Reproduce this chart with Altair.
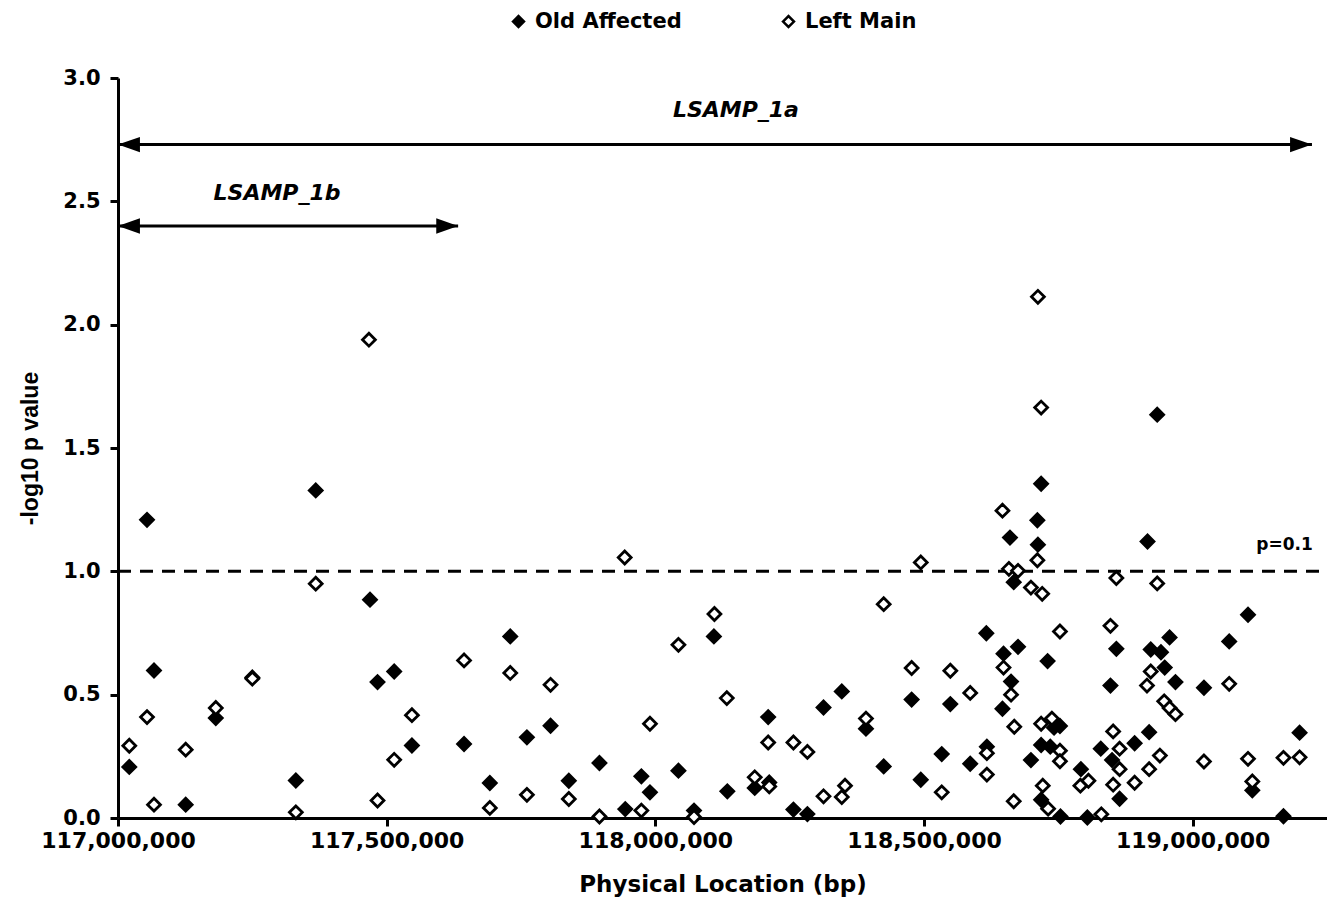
import altair as alt
import pandas as pd

# ---- data ----
oa_pos = [117021000, 117054000, 117067000, 117126000, 117182000, 117250000, 117331000, 117368000,
          117469000, 117483000, 117514000, 117547000, 117644000, 117692000, 117730000, 117761000,
          117805000, 117839000, 117896000, 117944000, 117974000, 117990000, 118043000, 118072000,
          118109000, 118134000, 118185000, 118210000, 118212000, 118257000, 118283000, 118313000,
          118347000, 118392000, 118425000, 118477000, 118494000, 118533000, 118549000, 118586000,
          118616000, 118617000, 118646000, 118648000, 118660000, 118662000, 118667000, 118675000,
          118699000, 118711000, 118712000, 118718000, 118718000, 118718000, 118730000, 118735000,
          118742000, 118753000, 118754000, 118792000, 118804000, 118829000, 118847000, 118850000,
          118858000, 118864000, 118892000, 118916000, 118919000, 118922000, 118934000, 118941000,
          118948000, 118957000, 118968000, 119021000, 119068000, 119103000, 119111000, 119169000,
          119199000]
oa_logp = [0.207, 1.209, 0.598, 0.054, 0.405, 0.570, 0.152, 1.328,
           0.885, 0.551, 0.594, 0.294, 0.300, 0.142, 0.736, 0.327,
           0.374, 0.151, 0.223, 0.036, 0.169, 0.104, 0.192, 0.030,
           0.736, 0.108, 0.122, 0.409, 0.144, 0.034, 0.016, 0.448,
           0.513, 0.362, 0.209, 0.480, 0.155, 0.259, 0.462, 0.220,
           0.749, 0.289, 0.443, 0.666, 1.137, 0.553, 0.956, 0.694,
           0.235, 1.207, 1.108, 1.355, 0.296, 0.074, 0.636, 0.289,
           0.366, 0.373, 0.006, 0.198, 0.002, 0.281, 0.537, 0.235,
           0.686, 0.078, 0.303, 1.121, 0.348, 0.683, 1.635, 0.672,
           0.610, 0.732, 0.551, 0.528, 0.716, 0.824, 0.112, 0.007,
           0.346]

lm_pos = [117021000, 117054000, 117067000, 117126000, 117182000, 117250000, 117331000, 117368000,
          117467000, 117483000, 117514000, 117547000, 117644000, 117692000, 117730000, 117761000,
          117805000, 117839000, 117896000, 117943000, 117974000, 117990000, 118043000, 118072000,
          118110000, 118133000, 118185000, 118210000, 118212000, 118257000, 118283000, 118313000,
          118347000, 118353000, 118392000, 118425000, 118477000, 118494000, 118533000, 118549000,
          118586000, 118617000, 118617000, 118646000, 118648000, 118658000, 118662000, 118667000,
          118668000, 118675000, 118699000, 118711000, 118712000, 118718000, 118718000, 118720000,
          118721000, 118731000, 118738000, 118753000, 118753000, 118753000, 118791000, 118806000,
          118830000, 118847000, 118852000, 118852000, 118858000, 118864000, 118864000, 118892000,
          118915000, 118919000, 118922000, 118934000, 118939000, 118947000, 118957000, 118968000,
          119021000, 119068000, 119103000, 119111000, 119169000, 119199000]
lm_logp = [0.293, 0.409, 0.054, 0.277, 0.446, 0.565, 0.023, 0.950,
           1.939, 0.071, 0.236, 0.417, 0.639, 0.041, 0.588, 0.094,
           0.540, 0.077, 0.006, 1.056, 0.030, 0.382, 0.702, 0.004,
           0.827, 0.486, 0.165, 0.306, 0.128, 0.306, 0.268, 0.088,
           0.085, 0.131, 0.403, 0.867, 0.608, 1.036, 0.104, 0.597,
           0.507, 0.263, 0.176, 1.246, 0.610, 1.010, 0.500, 0.068,
           0.370, 1.002, 0.934, 1.045, 2.113, 1.664, 0.382, 0.909,
           0.131, 0.038, 0.403, 0.756, 0.273, 0.230, 0.131, 0.151,
           0.015, 0.779, 0.351, 0.135, 0.973, 0.281, 0.198, 0.143,
           0.537, 0.198, 0.594, 0.951, 0.253, 0.473, 0.446, 0.421,
           0.229, 0.544, 0.240, 0.148, 0.244, 0.246]

series_names = ["Old Affected", "Left Main"]

x_ticks = [117000000, 117500000, 118000000, 118500000, 119000000]
x_domain = [117000000, 119250000]
y_ticks = [0.0, 0.5, 1.0, 1.5, 2.0, 2.5, 3.0]

region_labels = ["LSAMP_1a", "LSAMP_1b"]
region_start = [117000000, 117000000]
region_end = [119222000, 117633000]
region_y = [2.73, 2.40]
region_label_x = [118150000, 117296000]
region_label_y = [2.871, 2.535]

threshold = 1.0
threshold_label = "p=0.1"
threshold_label_x = 119171000
threshold_label_y = 1.107

# ---- tables ----
points = pd.DataFrame({
    "pos": oa_pos + lm_pos,
    "logp": oa_logp + lm_logp,
    "series": [series_names[0]] * len(oa_pos) + [series_names[1]] * len(lm_pos),
})
regions = pd.DataFrame({
    "label": region_labels, "start": region_start, "end": region_end, "y": region_y,
    "lx": region_label_x, "ly": region_label_y,
})
thr = pd.DataFrame({"start": [x_domain[0]], "end": [x_domain[1]], "y": [threshold],
                    "lx": [threshold_label_x], "ly": [threshold_label_y], "label": [threshold_label]})

xscale = alt.Scale(domain=x_domain, nice=False, zero=False)
yscale = alt.Scale(domain=[0, 3], nice=False)

xaxis = alt.Axis(values=x_ticks, format=",d", title="Physical Location (bp)",
                 labelFont="DejaVu Sans", labelFontWeight="bold", labelFontSize=22,
                 labelColor="black", labelPadding=4, labelFlush=False,
                 titleFont="DejaVu Sans", titleFontWeight="bold", titleFontSize=23,
                 titleColor="black", titlePadding=22,
                 domainColor="black", domainWidth=3, tickColor="black", tickWidth=3,
                 tickSize=8, grid=False)
yaxis = alt.Axis(values=y_ticks, format=".1f", title="-log10 p value",
                 labelFont="DejaVu Sans", labelFontWeight="bold", labelFontSize=21,
                 labelColor="black", labelPadding=10,
                 titleFont="Liberation Sans", titleFontWeight="bold", titleFontSize=23,
                 titleColor="black", titlePadding=20,
                 domainColor="black", domainWidth=3, tickColor="black", tickWidth=3,
                 tickSize=8, grid=False)

thr_line = alt.Chart(thr).mark_rule(color="black", strokeWidth=3, strokeDash=[13, 9]).encode(
    x=alt.X("start:Q", scale=xscale, axis=xaxis),
    x2="end:Q",
    y=alt.Y("y:Q", scale=yscale, axis=yaxis),
)
thr_text = alt.Chart(thr).mark_text(font="DejaVu Sans", fontWeight="bold", fontSize=17,
                                    color="black").encode(
    x=alt.X("lx:Q", scale=xscale), y=alt.Y("ly:Q", scale=yscale), text="label:N")

arrow_line = alt.Chart(regions).mark_rule(color="black", strokeWidth=3).encode(
    x=alt.X("start:Q", scale=xscale), x2="end:Q", y=alt.Y("y:Q", scale=yscale))
arrow_left = alt.Chart(regions).mark_point(
    shape="M 0 0 L 2 -0.7 L 2 0.7 Z", filled=True, color="black", size=480, opacity=1
).encode(x=alt.X("start:Q", scale=xscale), y=alt.Y("y:Q", scale=yscale))
arrow_right = alt.Chart(regions).mark_point(
    shape="M 0 0 L -2 -0.7 L -2 0.7 Z", filled=True, color="black", size=480, opacity=1
).encode(x=alt.X("end:Q", scale=xscale), y=alt.Y("y:Q", scale=yscale))
arrow_text = alt.Chart(regions).mark_text(font="DejaVu Sans", fontWeight="bold",
                                          fontStyle="italic", fontSize=22, color="black").encode(
    x=alt.X("lx:Q", scale=xscale), y=alt.Y("ly:Q", scale=yscale), text="label:N")

scatter = alt.Chart(points).mark_point(
    shape="diamond", filled=True, stroke="black", strokeWidth=2.8, size=165, opacity=1
).encode(
    x=alt.X("pos:Q", scale=xscale),
    y=alt.Y("logp:Q", scale=yscale),
    fill=alt.Fill("series:N", scale=alt.Scale(domain=series_names, range=["black", "white"]),
                  sort=series_names,
                  legend=alt.Legend(orient="none", legendX=390, legendY=-67,
                                    direction="horizontal", title=None,
                                    labelFont="DejaVu Sans", labelFontWeight="bold",
                                    labelFontSize=21, labelColor="black", labelOffset=6,
                                    symbolType="diamond", symbolSize=120,
                                    symbolStrokeColor="black", symbolStrokeWidth=2.5,
                                    columnPadding=96, padding=0)),
)

chart = alt.layer(thr_line, thr_text, arrow_line, arrow_left, arrow_right, arrow_text, scatter).properties(
    width=1209, height=740,
    autosize=alt.AutoSizeParams(type="none"),
    padding={"left": 110, "top": 70, "right": 0, "bottom": 82},
    background="white",
).configure_view(stroke=None)

chart.save("out.html", embed_options={"renderer": "svg", "actions": False})
